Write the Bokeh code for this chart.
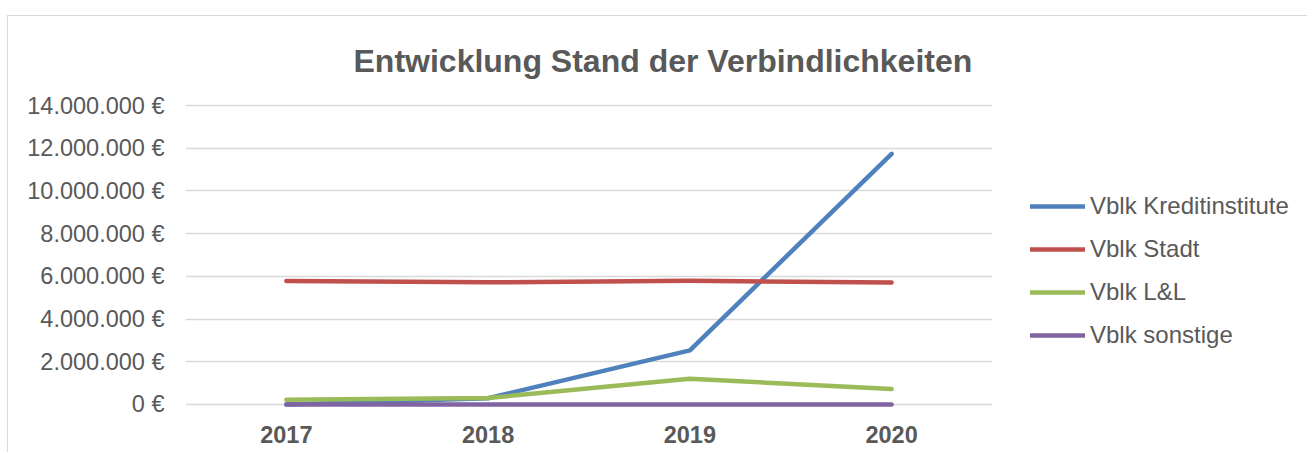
from bokeh.plotting import figure
from bokeh.layouts import row
from bokeh.models import FactorRange, Range1d, FixedTicker, Legend, LegendItem, Title
from bokeh.embed import file_html
from bokeh.resources import INLINE

years = ["2017", "2018", "2019", "2020"]
kreditinstitute = [0, 290000, 2530000, 11740000]
stadt = [5780000, 5720000, 5790000, 5710000]
ll = [220000, 300000, 1200000, 720000]
sonstige = [0, 0, 0, 0]
y_ticks = [0, 2000000, 4000000, 6000000, 8000000, 10000000, 12000000, 14000000]
y_labels = ["0 €", "2.000.000 €", "4.000.000 €", "6.000.000 €", "8.000.000 €",
            "10.000.000 €", "12.000.000 €", "14.000.000 €"]
series_names = ["Vblk Kreditinstitute", "Vblk Stadt", "Vblk L&L", "Vblk sonstige"]
colors = ["#4f81bd", "#c0504d", "#9bbb59", "#8064a2"]
title_text = "Entwicklung Stand der Verbindlichkeiten"

FONT = "Liberation Sans"
TXT = "#595959"
H = 436
NAN = float("nan")

p = figure(width=992, height=H, output_backend="svg", toolbar_location=None,
           x_range=FactorRange(factors=years, range_padding=0),
           y_range=Range1d(-240000, 14100000),
           min_border_left=177, min_border_right=8, min_border_top=87, min_border_bottom=43)
p.outline_line_color = None
p.background_fill_color = "white"
p.border_fill_color = "white"

for vals, c in zip([kreditinstitute, stadt, ll, sonstige], colors):
    p.line(years, vals, line_color=c, line_width=4.5, line_cap="round", line_join="round")

# axes
p.yaxis.ticker = FixedTicker(ticks=y_ticks)
p.yaxis.major_label_overrides = {t: l for t, l in zip(y_ticks, y_labels)}
p.yaxis.axis_line_color = None
p.yaxis.major_tick_line_color = None
p.yaxis.major_tick_in = 0
p.yaxis.major_tick_out = 0
p.yaxis.minor_tick_line_color = None
p.yaxis.major_label_standoff = 21
p.yaxis.major_label_text_font = FONT
p.yaxis.major_label_text_font_size = "23.5px"
p.yaxis.major_label_text_color = TXT

p.xaxis.axis_line_color = None
p.xaxis.major_tick_line_color = None
p.xaxis.major_tick_in = 0
p.xaxis.major_tick_out = 0
p.xaxis.minor_tick_line_color = None
p.xaxis.major_label_standoff = 16
p.xaxis.major_label_text_font = FONT
p.xaxis.major_label_text_font_size = "23.5px"
p.xaxis.major_label_text_font_style = "bold"
p.xaxis.major_label_text_color = TXT

p.xgrid.grid_line_color = None
p.ygrid.grid_line_color = "#d9d9d9"
p.ygrid.grid_line_width = 1.3

# title
p.add_layout(Title(text=title_text, align="left", offset=168, text_font=FONT,
                   text_font_size="32px", text_font_style="bold", text_color=TXT,
                   standoff=49), "above")

# legend panel (separate figure, same series styles; placeholder glyphs carry no visible data)
p2 = figure(width=307, height=H, output_backend="svg", toolbar_location=None,
            x_range=Range1d(0, 1), y_range=Range1d(0, 1),
            x_axis_location=None, y_axis_location=None,
            min_border_left=0, min_border_right=0, min_border_top=0, min_border_bottom=0)
p2.outline_line_color = None
p2.xgrid.grid_line_color = None
p2.ygrid.grid_line_color = None
leg_renderers = [p2.line(x=[NAN], y=[NAN], line_color=c, line_width=4.5, line_cap="round")
                 for c in colors]
legend = Legend(items=[LegendItem(label=n, renderers=[r]) for n, r in zip(series_names, leg_renderers)],
                location=(30, 60), border_line_color=None, background_fill_alpha=0,
                padding=0, margin=0, spacing=15, glyph_width=55, glyph_height=24,
                label_height=24, label_standoff=5, label_text_font=FONT,
                label_text_font_size="24px", label_text_color=TXT)
p2.add_layout(legend)

layout = row(p, p2, styles={"margin-left": "7px", "margin-top": "15px",
                            "border-left": "1px solid #d9d9d9",
                            "border-top": "1px solid #d9d9d9"})

open("out.html", "w").write(file_html(layout, INLINE))
